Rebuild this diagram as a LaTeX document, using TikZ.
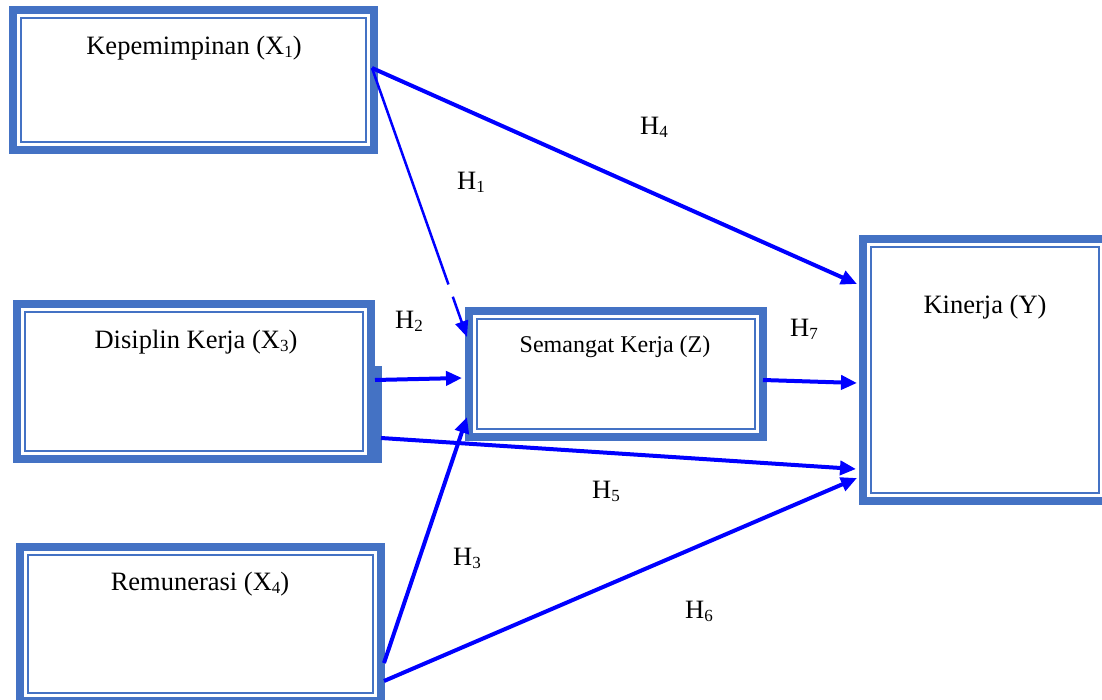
\documentclass[tikz,border=0pt]{standalone}
\usepackage{fontspec}
\setmainfont{Liberation Serif}
\usetikzlibrary{arrows.meta,calc}
\definecolor{boxblue}{HTML}{4472C4}
\definecolor{arrblue}{HTML}{0000FF}
\newcommand\mysub[1]{\raisebox{-3pt}{\fontsize{17}{17}\selectfont #1}}
\tikzset{
  dbox/.style={rectangle, draw=boxblue, line width=8pt, fill=white, inner sep=0pt, outer sep=0pt,
    path picture={\draw[boxblue, line width=2pt]
      ([shift={(8pt,-8pt)}]path picture bounding box.north west) rectangle
      ([shift={(-8pt,8pt)}]path picture bounding box.south east);}},
  boxtext/.style={anchor=base, inner sep=0pt, font=\fontsize{26.5}{30}\selectfont},
  hlabel/.style={anchor=base west, inner sep=0pt, font=\fontsize{26.5}{30}\selectfont},
  link/.style={draw=arrblue, line width=4pt, -{Triangle[length=16pt,width=14pt]}},
  thinlink/.style={draw=arrblue, line width=2.5pt, -{Triangle[length=16pt,width=13pt]}}
}
\begin{document}
\begin{tikzpicture}[x=1pt,y=-1pt]
\useasboundingbox (0,0) rectangle (1102,700);
\clip (0,0) rectangle (1102,700);
% boxes
\node[dbox, minimum width=361pt, minimum height=140pt] (X1) at (193.5,80) {};
\node[dbox, minimum width=354pt, minimum height=155pt] (X3) at (194,381.5) {};
\fill[boxblue] (375,366) rectangle (382,463);
\node[dbox, minimum width=294pt, minimum height=126pt] (Z) at (616,374) {};
\node[dbox, minimum width=244pt, minimum height=262pt] (Y) at (985,370) {};
\node[dbox, minimum width=361pt, minimum height=154pt] (X4) at (200.5,624) {};
% box texts
\node[boxtext] (tX1) at (194,55) {Kepemimpinan (X\mysub{1})};
\node[boxtext] (tX3) at (196,348) {Disiplin Kerja (X\mysub{3})};
\node[boxtext, font=\fontsize{24}{28}\selectfont] (tZ) at (615,352) {Semangat Kerja (Z)};
\node[boxtext] (tY) at (985,313) {Kinerja (Y)};
\node[boxtext] (tX4) at (200,590) {Remunerasi (X\mysub{4})};
% connectors
\coordinate (s1) at ($(X1.north east)+(-2,58)$);
\coordinate (e1) at ($(Z.north west)+(-2,26)$);
\draw[thinlink] (s1) -- (e1);
\draw[white, line width=4pt] ($(s1)!0.805!(e1)$) -- ($(s1)!0.85!(e1)$);
\draw[link] (s1) -- ($(Y.north west)+(-6,45)$);
\draw[link] ($(X3.north east)+(4,76)$) -- ($(Z.north west)+(-7,67)$);
\draw[link] ($(X3.north east)+(10,134)$) -- ($(Y.north west)+(-7,230)$);
\draw[link] ($(X4.north east)+(3,116)$) -- ($(Z.south west)+(-2,-20)$);
\draw[link] ($(X4.north east)+(3,134)$) -- ($(Y.north west)+(-6,239)$);
\draw[link] ($(Z.north east)+(0,69)$) -- ($(Y.north west)+(-6,144)$);
% hypothesis labels
\node[hlabel] (H4) at (640,135) {H\mysub{4}};
\node[hlabel] (H1) at (457,190) {H\mysub{1}};
\node[hlabel] (H2) at (395,328) {H\mysub{2}};
\node[hlabel] (H7) at (790,336) {H\mysub{7}};
\node[hlabel] (H5) at (592,498) {H\mysub{5}};
\node[hlabel] (H3) at (453,565) {H\mysub{3}};
\node[hlabel] (H6) at (685,618) {H\mysub{6}};
\end{tikzpicture}
\end{document}
